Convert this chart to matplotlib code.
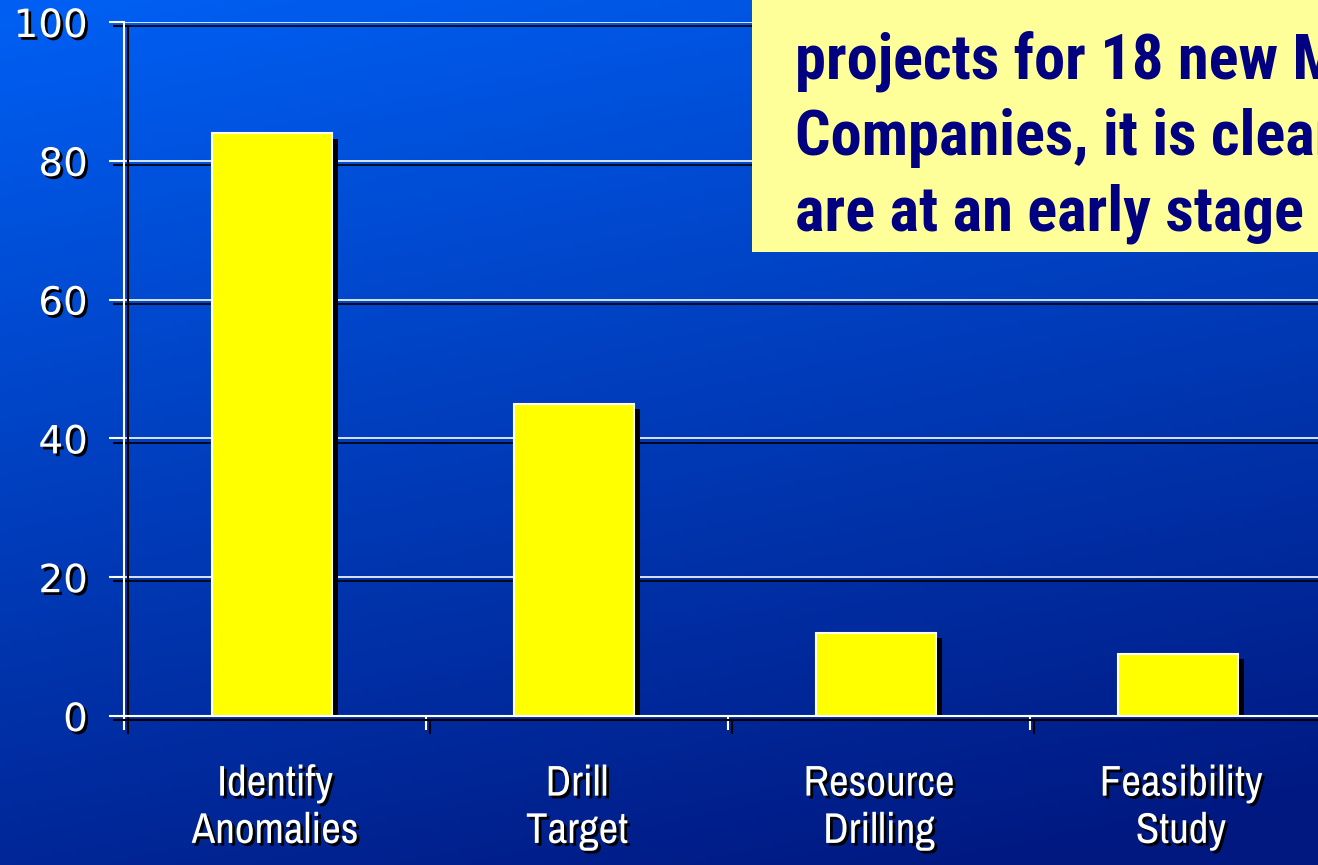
import numpy as np
import matplotlib
matplotlib.use("Agg")
import matplotlib.pyplot as plt
import matplotlib.patheffects as pe
import matplotlib.font_manager as fm
from matplotlib.patches import Rectangle

# Stage of exploration projects (% of projects)
stages = ["Identify\nAnomalies", "Drill\nTarget", "Resource\nDrilling", "Feasibility\nStudy"]
percent = [84, 45, 12, 9]
y_ticks = [0, 20, 40, 60, 80, 100]
note_lines = [
    "projects for 18 new Mining",
    "Companies, it is clear that most",
    "are at an early stage of",
]

W, H = 1318, 865
NARROW = ["Archivo Narrow", "DejaVu Sans"]


def pick_bold_narrow():
    cands = ["Roboto Condensed", "PT Sans Narrow", "Fira Sans Condensed",
             "IBM Plex Sans Condensed", "Encode Sans Condensed", "Archivo Narrow"]
    have = {(f.name, f.weight) for f in fm.fontManager.ttflist}
    for c in cands:
        if any(n == c and w >= 700 for n, w in have):
            return c
    return "Archivo Narrow"


BOLD_NARROW = [pick_bold_narrow(), "DejaVu Sans"]

line_shadow = [pe.SimpleLineShadow(offset=(3, -3), shadow_color="black", alpha=1.0), pe.Normal()]
text_shadow = [pe.SimplePatchShadow(offset=(2, -2), shadow_rgbFace="black", alpha=1.0), pe.Normal()]
bar_shadow = [pe.SimplePatchShadow(offset=(4, -4), shadow_rgbFace="black", alpha=1.0), pe.Normal()]

fig = plt.figure(figsize=(W / 100, H / 100), dpi=100)

# diagonal blue gradient background
bg = fig.add_axes([0, 0, 1, 1], zorder=0)
yy, xx = np.mgrid[0:1:200j, 0:1:300j]
t = np.clip(0.8 * yy + 0.25 * xx, 0, 1)
top = np.array([0x00, 0x60, 0xF4]) / 255
bot = np.array([0x00, 0x18, 0x80]) / 255
img = top[None, None, :] * (1 - t[..., None]) + bot[None, None, :] * t[..., None]
bg.imshow(img, aspect="auto", extent=[0, 1, 0, 1], origin="upper")
bg.axis("off")

ax = fig.add_axes([124 / W, (H - 716) / H, 1208 / W, 694 / H], zorder=1)
ax.set_facecolor("none")

x = np.arange(len(stages))
bars = ax.bar(x - 0.01, percent, width=0.4, color="#FFFF00", edgecolor="white", linewidth=1.5, zorder=3)
for b in bars:
    b.set_path_effects(bar_shadow)

for v in y_ticks[1:]:
    ax.axhline(v, color="white", lw=1.2, zorder=1, path_effects=line_shadow)

ax.set_xlim(-0.5, len(stages) - 0.5)
ax.set_ylim(0, 100)
ax.set_yticks(y_ticks)
ax.set_yticklabels([str(v) for v in y_ticks], fontsize=28, color="white",
                   family="DejaVu Sans")
ax.set_xticks(np.arange(len(stages) + 1) - 0.5)
ax.set_xticklabels([])
ax.set_xticks(x, minor=True)
ax.set_xticklabels(stages, minor=True, fontsize=31, color="white", family=NARROW,
                   linespacing=1.3)
ax.tick_params(axis="x", which="minor", length=0, pad=35)
ax.tick_params(axis="x", which="major", length=10, width=1.5, color="white")
ax.tick_params(axis="y", length=11, width=1.5, color="white", pad=15)

for lbl in ax.get_yticklabels() + ax.get_xticklabels(minor=True):
    lbl.set_path_effects(text_shadow)
for tk in ax.xaxis.get_major_ticks() + ax.yaxis.get_major_ticks():
    tk.tick1line.set_path_effects(line_shadow)

for side in ["top", "right"]:
    ax.spines[side].set_visible(False)
for side in ["left", "bottom"]:
    ax.spines[side].set_color("white")
    ax.spines[side].set_linewidth(1.5)
    ax.spines[side].set_path_effects(line_shadow)
    ax.spines[side].set_zorder(4)

# note box in the upper right
fig.patches.append(Rectangle((752 / W, (H - 252) / H), 1 - 752 / W + 0.01, 252 / H + 0.01,
                             transform=fig.transFigure, facecolor="#FFFF99",
                             edgecolor="none", zorder=5))
for i, line in enumerate(note_lines):
    fig.text(795 / W, (H - 78 - 76.5 * i) / H, line, fontsize=45, fontweight="bold",
             color="#000080", family=BOLD_NARROW, va="baseline", ha="left", zorder=6)

fig.savefig("out.png", dpi=100)
